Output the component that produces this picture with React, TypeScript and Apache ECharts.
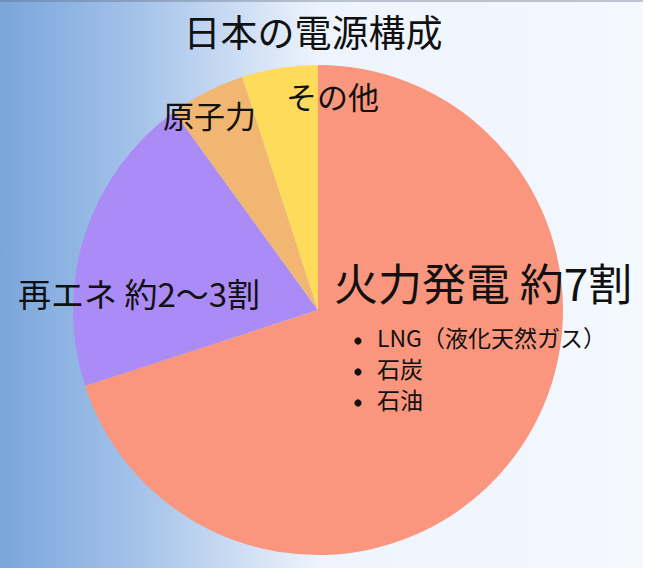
import * as echarts from 'echarts';
import { useEffect, useRef } from 'react';

const chartTitle = '日本の電源構成';
const sourceNames = ['火力発電', '再エネ', '原子力', 'その他'];
const sourceShares = [70, 20, 5, 5];
const sourceColors = ['#fa967d', '#ab8bf5', '#f0b672', '#fedb5b'];
const sourceCaptions = ['火力発電 約7割', '再エネ 約2〜3割', '原子力', 'その他'];
const thermalFuels = ['LNG（液化天然ガス）', '石炭', '石油'];

const FONT = '"Noto Sans CJK JP", "Noto Sans", sans-serif';

function App() {
  const chartRef = useRef(null);

  useEffect(() => {
    const myChart = echarts.init(chartRef.current, null, { renderer: 'svg' });

    const caption = (text: string, left: number, top: number, size: number) => ({
      type: 'text',
      z: 100,
      left,
      top,
      silent: true,
      style: { text, font: `${size}px ${FONT}`, fill: '#111' },
    });

    // bullet list under the thermal caption
    const bullets = thermalFuels.flatMap((fuel, i) => [
      {
        type: 'circle',
        z: 100,
        silent: true,
        shape: { cx: 358, cy: 341 + i * 31, r: 3.6 },
        style: { fill: '#111' },
      },
      caption(fuel, 377, 325 + i * 31, 23),
    ]);

    const option = {
      animation: false,
      graphic: [
        {
          type: 'rect',
          z: -10,
          silent: true,
          shape: { x: 0, y: 0, width: 643, height: 568 },
          style: {
            fill: new echarts.graphic.LinearGradient(0, 0, 1, 0, [
              { offset: 0, color: '#7aa6db' },
              { offset: 0.22, color: '#a5c3ea' },
              { offset: 0.38, color: '#cfdff5' },
              { offset: 0.5, color: '#eef4fd' },
              { offset: 1, color: '#f4f8ff' },
            ]),
          },
        },
        {
          type: 'rect',
          z: -9,
          silent: true,
          shape: { x: 0, y: 0, width: 643, height: 2 },
          style: { fill: 'rgba(90,100,120,0.35)' },
        },
        caption(sourceCaptions[0], 334, 260, 44),
        caption(sourceCaptions[1], 18, 276, 33),
        caption(sourceCaptions[2], 163, 99, 31),
        caption(sourceCaptions[3], 286, 80, 31),
        ...bullets,
      ],
      title: {
        text: chartTitle,
        left: 308,
        top: 7,
        textAlign: 'center',
        textStyle: {
          fontFamily: FONT,
          fontSize: 37,
          fontWeight: 'normal',
          color: '#111',
        },
      },
      series: [
        {
          name: chartTitle,
          type: 'pie',
          center: [318, 310],
          radius: 245,
          startAngle: 90,
          clockwise: true,
          silent: true,
          z: 2,
          label: { show: false },
          labelLine: { show: false },
          data: sourceNames.map((name, i) => ({
            name,
            value: sourceShares[i],
            itemStyle: { color: sourceColors[i] },
          })),
        },
      ],
    };

    myChart.setOption(option);

    return () => {
      myChart.dispose();
    };
  }, []);

  return (
    <div
      ref={chartRef}
      style={{ position: 'absolute', left: 0, top: 0, width: '663px', height: '568px' }}
    ></div>
  );
}

export default App;
